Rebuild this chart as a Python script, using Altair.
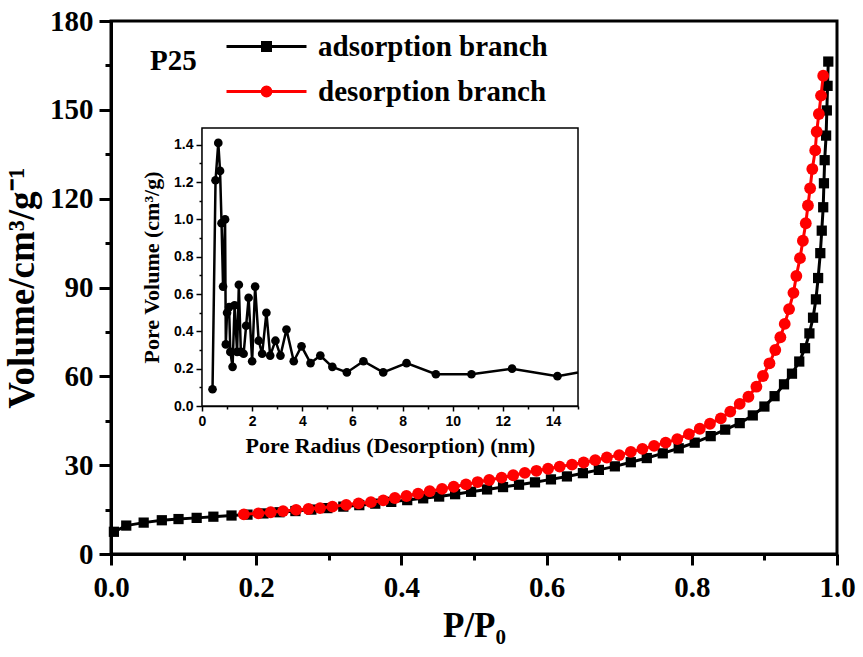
import altair as alt
import pandas as pd

# ---------------- data ----------------
series_names = ["adsorption branch", "desorption branch"]
sample_label = "P25"

ads_p = [0.004, 0.021, 0.045, 0.070, 0.093, 0.118, 0.141, 0.166, 0.188, 0.210,
         0.232, 0.254, 0.276, 0.298, 0.320, 0.342, 0.364, 0.386, 0.408, 0.430,
         0.452, 0.474, 0.496, 0.518, 0.540, 0.562, 0.584, 0.606, 0.628, 0.650,
         0.672, 0.694, 0.716, 0.738, 0.760, 0.782, 0.804, 0.826, 0.846, 0.866,
         0.884, 0.900, 0.914, 0.927, 0.938, 0.948, 0.956, 0.962, 0.967, 0.971,
         0.974, 0.977, 0.979, 0.981, 0.982, 0.983, 0.985, 0.986, 0.987, 0.988]
ads_v = [7.5, 9.6, 10.6, 11.4, 11.8, 12.2, 12.6, 13.0, 13.3, 13.7,
         14.1, 14.5, 15.0, 15.5, 16.0, 16.5, 17.0, 17.6, 18.2, 18.8,
         19.4, 20.2, 21.0, 21.8, 22.6, 23.4, 24.2, 25.2, 26.2, 27.3,
         28.4, 29.6, 31.0, 32.4, 34.0, 35.7, 37.6, 39.8, 42.0, 44.2,
         46.8, 49.8, 53.3, 57.3, 60.9, 65.0, 69.5, 74.5, 79.8, 86.0,
         93.2, 101.6, 109.2, 117.1, 125.2, 133.0, 141.3, 149.8, 158.1, 166.3]

des_p = [0.183, 0.203, 0.220, 0.237, 0.255, 0.272, 0.288, 0.305, 0.324, 0.341,
         0.358, 0.375, 0.391, 0.407, 0.423, 0.439, 0.456, 0.472, 0.489, 0.505,
         0.521, 0.538, 0.554, 0.570, 0.586, 0.602, 0.618, 0.635, 0.651, 0.667,
         0.683, 0.700, 0.716, 0.732, 0.748, 0.764, 0.780, 0.796, 0.811, 0.825,
         0.840, 0.853, 0.866, 0.878, 0.889, 0.898, 0.907, 0.915, 0.922, 0.928,
         0.934, 0.940, 0.944, 0.949, 0.953, 0.957, 0.960, 0.963, 0.966, 0.970,
         0.972, 0.975, 0.978, 0.981]
des_v = [13.4, 13.7, 14.1, 14.5, 14.9, 15.2, 15.5, 16.0, 16.6, 17.1,
         17.5, 18.1, 18.9, 19.6, 20.4, 21.2, 22.0, 22.7, 23.5, 24.3,
         25.0, 25.8, 26.6, 27.4, 28.1, 28.8, 29.5, 30.2, 30.9, 31.7,
         32.6, 33.4, 34.5, 35.5, 36.5, 37.6, 38.8, 40.5, 42.3, 44.0,
         45.8, 48.1, 50.7, 53.1, 56.5, 60.1, 64.4, 68.9, 73.2, 77.7,
         82.7, 88.2, 93.9, 99.9, 105.8, 111.7, 117.7, 123.5, 130.0, 136.3,
         142.6, 148.6, 154.8, 161.5]

pore_r = [0.42, 0.54, 0.65, 0.72, 0.78, 0.84, 0.92, 0.95, 1.00, 1.08,
          1.13, 1.22, 1.30, 1.40, 1.47, 1.55, 1.66, 1.76, 1.86, 2.00,
          2.12, 2.26, 2.40, 2.57, 2.72, 2.93, 3.13, 3.37, 3.66, 3.97,
          4.33, 4.72, 5.20, 5.78, 6.44, 7.23, 8.16, 9.33, 10.75, 12.37,
          14.18, 15.9]
pore_v = [0.09, 1.21, 1.41, 1.26, 0.98, 0.64, 1.00, 0.33, 0.50, 0.53,
          0.29, 0.21, 0.54, 0.29, 0.65, 0.29, 0.28, 0.43, 0.58, 0.24,
          0.64, 0.35, 0.28, 0.50, 0.27, 0.35, 0.27, 0.41, 0.24, 0.32,
          0.23, 0.27, 0.21, 0.18, 0.24, 0.18, 0.23, 0.17, 0.17, 0.20,
          0.16, 0.18]

main_x_domain = [0, 1]
main_y_domain = [0, 180]
inset_x_domain = [0, 15]
inset_y_domain = [0, 1.49]

# ---------------- layout / style ----------------
W, H = 726, 533
INSET_X_RANGE = [91, 467]
INSET_Y_RANGE = [385, 107]
SERIF = "Liberation Serif"
SANS = "Liberation Sans"

ads = pd.DataFrame({"p": ads_p, "v": ads_v})
des = pd.DataFrame({"p": des_p, "v": des_v})
pore = pd.DataFrame({"r": pore_r, "v": pore_v})
frame = pd.DataFrame({"x0": [inset_x_domain[0]], "x1": [inset_x_domain[1]],
                      "y0": [inset_y_domain[0]], "y1": [inset_y_domain[1]]})
leg_df = pd.DataFrame({"series": series_names})

major02 = "abs(datum.value*5 - round(datum.value*5)) < 0.001"

main_x_axis = alt.Axis(
    values=[i / 10 for i in range(11)],
    labelExpr=f"{major02} ? format(datum.value, '.1f') : ''",
    tickSize={"condition": {"test": major02, "value": 11}, "value": 6},
    tickWidth=3, domainWidth=3, domainColor="black", tickColor="black",
    labelFont=SERIF, labelFontWeight="bold", labelFontSize=29, labelColor="black",
    labelPadding=8, labelOverlap=False, labelFlush=False,
    titleFont=SERIF, titleFontWeight="bold", titleFontSize=35, titleColor="black",
    titlePadding=6, grid=False,
)
main_y_axis = alt.Axis(
    values=list(range(0, 181, 15)),
    labelExpr="datum.value % 30 == 0 ? format(datum.value, 'd') : ''",
    tickSize={"condition": {"test": "datum.value % 30 == 0", "value": 12}, "value": 6},
    tickWidth=3, domainWidth=3, domainColor="black", tickColor="black",
    labelFont=SERIF, labelFontWeight="bold", labelFontSize=29, labelColor="black",
    labelPadding=6, labelOverlap=False, labelFlush=False,
    titleFont=SERIF, titleFontWeight="bold", titleFontSize=37, titleColor="black",
    titlePadding=8, grid=False,
)

xm = alt.X("p:Q", scale=alt.Scale(domain=main_x_domain, nice=False, zero=False),
           axis=main_x_axis, title="P/P₀")
ym = alt.Y("v:Q", scale=alt.Scale(domain=main_y_domain, nice=False),
           axis=main_y_axis, title="Volume/cm³/g⁻¹")

ads_line = alt.Chart(ads).mark_line(color="black", strokeWidth=3).encode(x=xm, y=ym)
ads_pts = alt.Chart(ads).mark_point(shape="square", filled=True, color="black",
                                    size=105, opacity=1).encode(x=xm, y=ym)
des_line = alt.Chart(des).mark_line(color="#ff0000", strokeWidth=3).encode(x=xm, y=ym)
des_pts = alt.Chart(des).mark_point(shape="circle", filled=True, color="#ff0000",
                                    size=140, opacity=1).encode(x=xm, y=ym)

sq_path = "M-1,0H1M-0.1,-0.1H0.1V0.1H-0.1Z"
circ_path = "M-1,0H1M0.11,0A0.11,0.11,0,1,1,-0.11,0A0.11,0.11,0,1,1,0.11,0Z"

legend_def = alt.Legend(
    title=sample_label, orient="none", legendX=39, legendY=3,
    titleOrient="left", titleAnchor="start", titleBaseline="line-top",
    titleLineHeight=76, titlePadding=28,
    titleFont=SERIF, titleFontSize=29, titleFontWeight="bold", titleColor="black",
    labelFont=SERIF, labelFontSize=29, labelFontWeight="bold", labelColor="black",
    labelOffset=10, labelLimit=400, symbolSize=6400, symbolStrokeWidth=3,
    clipHeight=45, rowPadding=0, padding=0,
)
legend_layer = alt.Chart(leg_df).mark_point(filled=True, opacity=1).encode(
    fill=alt.Fill("series:N", scale=alt.Scale(domain=series_names, range=["black", "#ff0000"]),
                  legend=legend_def),
    stroke=alt.Stroke("series:N", scale=alt.Scale(domain=series_names, range=["black", "#ff0000"]),
                      legend=legend_def),
    shape=alt.Shape("series:N", scale=alt.Scale(domain=series_names, range=[sq_path, circ_path]),
                    legend=legend_def),
).transform_filter("false")

main = alt.layer(ads_line, ads_pts, des_line, des_pts, legend_layer)

# ---------------- inset ----------------
inset_x_axis = alt.Axis(
    orient="bottom", offset=-(H - INSET_Y_RANGE[0]),
    values=list(range(0, 16)),
    labelExpr="datum.value % 2 == 0 ? format(datum.value, 'd') : ''",
    tickSize={"condition": {"test": "datum.value % 2 == 0", "value": 5}, "value": 3},
    tickWidth=1.5, domainWidth=1.5, domainColor="black", tickColor="black",
    labelFont=SANS, labelFontWeight="bold", labelFontSize=14, labelColor="black",
    labelPadding=3, labelOverlap=False, labelFlush=False,
    titleFont=SERIF, titleFontWeight="bold", titleFontSize=22, titleColor="black",
    titlePadding=7, grid=False,
)
inset_y_axis = alt.Axis(
    orient="left", offset=-INSET_X_RANGE[0],
    values=[round(i * 0.1, 1) for i in range(15)],
    labelExpr=f"{major02} ? format(datum.value, '.1f') : ''",
    tickSize={"condition": {"test": major02, "value": 6}, "value": 3},
    tickWidth=1.5, domainWidth=1.5, domainColor="black", tickColor="black",
    labelFont=SANS, labelFontWeight="bold", labelFontSize=14, labelColor="black",
    labelPadding=3, labelOverlap=False, labelFlush=False,
    titleFont=SERIF, titleFontWeight="bold", titleFontSize=22, titleColor="black",
    titlePadding=10, grid=False,
)
xi_scale = alt.Scale(domain=inset_x_domain, range=INSET_X_RANGE, nice=False, zero=False, clamp=True)
yi_scale = alt.Scale(domain=inset_y_domain, range=INSET_Y_RANGE, nice=False, clamp=True)

inset_frame = alt.Chart(frame).mark_rect(fill="white", stroke="black", strokeWidth=1.5).encode(
    x=alt.X("x0:Q", scale=xi_scale, axis=inset_x_axis, title="Pore Radius (Desorption) (nm)"),
    x2="x1:Q",
    y=alt.Y("y0:Q", scale=yi_scale, axis=inset_y_axis, title="Pore Volume (cm³/g)"),
    y2="y1:Q",
)
xi = alt.X("r:Q", scale=xi_scale, axis=inset_x_axis, title="Pore Radius (Desorption) (nm)")
yi = alt.Y("v:Q", scale=yi_scale, axis=inset_y_axis, title="Pore Volume (cm³/g)")
inset_line = alt.Chart(pore).mark_line(color="black", strokeWidth=2.5).encode(x=xi, y=yi)
inset_pts = alt.Chart(pore).mark_point(shape="circle", filled=True, color="black",
                                       size=75, opacity=1).encode(x=xi, y=yi).transform_filter(
    f"datum.r <= {inset_x_domain[1]}")
inset = alt.layer(inset_frame, inset_line, inset_pts)

chart = alt.layer(main, inset).resolve_scale(x="independent", y="independent").properties(
    width=W, height=H,
    padding={"left": 111, "top": 21, "right": 26, "bottom": 103},
    autosize=alt.AutoSizeParams(type="none"),
    background="white",
).configure_view(stroke="black", strokeWidth=3)

chart.save("out.html", embed_options={"renderer": "svg", "actions": False})
